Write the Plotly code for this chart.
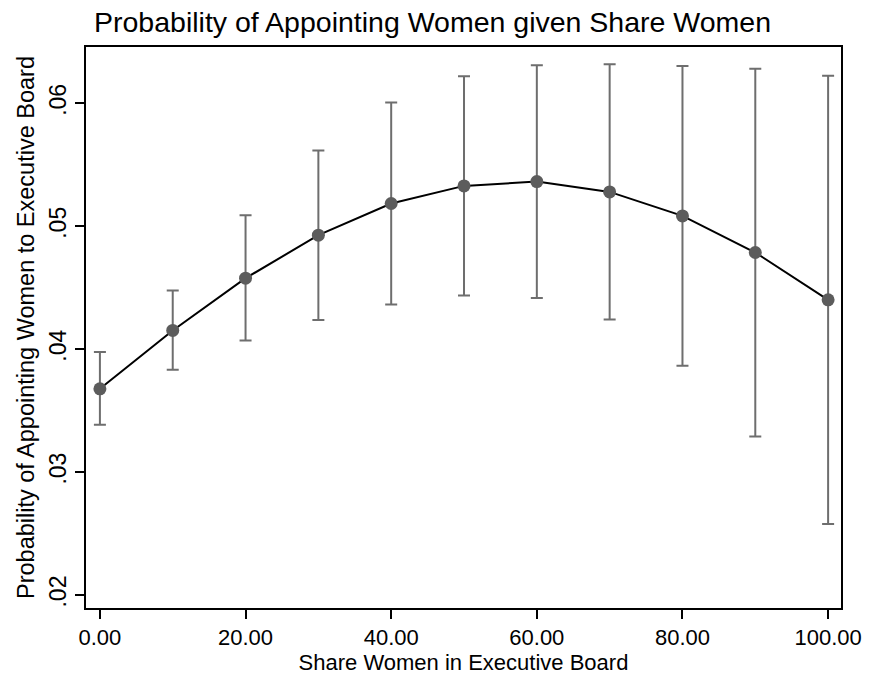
import plotly.graph_objects as go

share_women = [0, 10, 20, 30, 40, 50, 60, 70, 80, 90, 100]
prob = [0.03677, 0.04152, 0.04577, 0.04927, 0.05185, 0.05328, 0.05363, 0.05279, 0.05084, 0.04786, 0.04401]
ci_low = [0.03385, 0.03832, 0.04071, 0.04238, 0.04363, 0.04436, 0.04415, 0.04241, 0.03865, 0.03290, 0.02577]
ci_high = [0.03976, 0.04478, 0.05090, 0.05616, 0.06007, 0.06220, 0.06310, 0.06317, 0.06303, 0.06282, 0.06225]

y_tickvals = [0.02, 0.03, 0.04, 0.05, 0.06]
y_ticktext = [".02", ".03", ".04", ".05", ".06"]
x_tickvals = [0, 20, 40, 60, 80, 100]

err_plus = [h - p for h, p in zip(ci_high, prob)]
err_minus = [p - l for p, l in zip(prob, ci_low)]

fig = go.Figure()
# confidence intervals
fig.add_trace(go.Scatter(
    x=share_women, y=prob,
    mode="markers",
    marker=dict(color="rgba(0,0,0,0)", size=1),
    error_y=dict(type="data", symmetric=False, array=err_plus, arrayminus=err_minus,
                 color="#6e6e6e", thickness=2, width=6),
    hoverinfo="skip",
))
# connecting line
fig.add_trace(go.Scatter(
    x=share_women, y=prob,
    mode="lines",
    line=dict(color="black", width=2),
    hoverinfo="skip",
))
# point estimates
fig.add_trace(go.Scatter(
    x=share_women, y=prob,
    mode="markers",
    marker=dict(color="#5c5c5c", size=13),
))

font_main = "Liberation Sans, Arial, sans-serif"

fig.update_layout(
    width=874, height=681,
    margin=dict(l=86, r=28, t=47, b=73),
    paper_bgcolor="white", plot_bgcolor="white",
    showlegend=False,
    title=dict(text="Probability of Appointing Women given Share Women",
               x=94/874, xanchor="left", y=1-22/681, yanchor="middle",
               font=dict(family=font_main, size=28.5, color="black")),
    xaxis=dict(
        range=[-1.91, 101.77], tickvals=x_tickvals, tickformat=".2f",
        ticks="outside", ticklen=9, tickwidth=1.5, tickcolor="black",
        showgrid=False, zeroline=False,
        showline=True, linecolor="black", linewidth=2, mirror=True,
        tickfont=dict(family=font_main, size=22, color="black"),
        title=dict(text="Share Women in Executive Board",
                   font=dict(family=font_main, size=22, color="black"), standoff=2),
    ),
    yaxis=dict(
        range=[0.01894, 0.06458], tickvals=y_tickvals, ticktext=y_ticktext,
        tickangle=-90,
        ticks="outside", ticklen=9, tickwidth=1.5, tickcolor="black",
        showgrid=False, zeroline=False,
        showline=True, linecolor="black", linewidth=2, mirror=True,
        tickfont=dict(family=font_main, size=23, color="black"),
        title=dict(text="Probability of Appointing Women to Executive Board",
                   font=dict(family=font_main, size=23.5, color="black"),
                   standoff=4),
    ),
)

fig.write_html("out.html")
